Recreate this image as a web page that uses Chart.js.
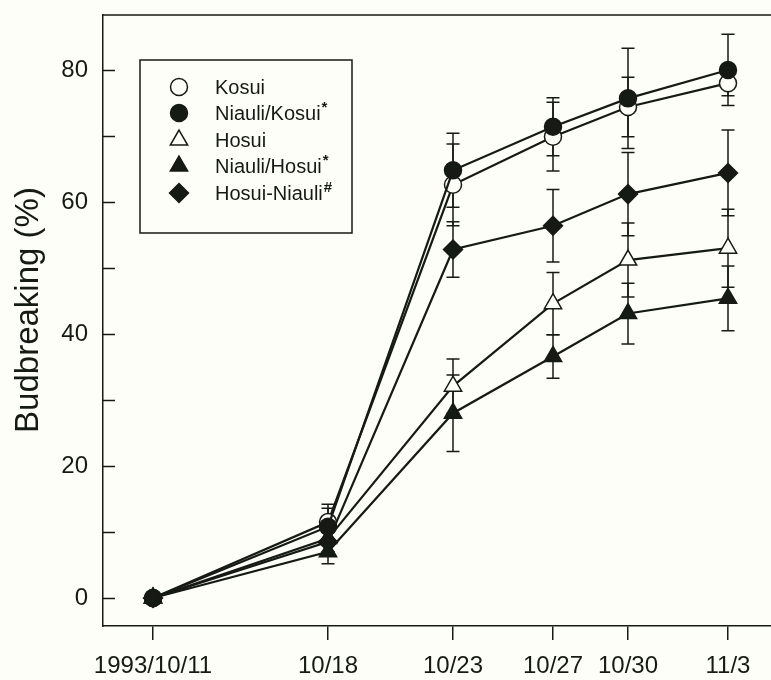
<!DOCTYPE html>
<html><head><meta charset="utf-8">
<script src="https://cdn.jsdelivr.net/npm/chart.js@4.4.0/dist/chart.umd.min.js"></script>
<style>html,body{margin:0;padding:0;background:#fefef8;} #wrap{width:771px;height:680px;}</style>
</head><body><div id="wrap"><canvas id="c" width="771" height="680"></canvas></div>
<script>
// ---- data ----
const dayTicks = [0, 7, 12, 16, 19, 23];            // days after 1993/10/11
const dateLabels = ['1993/10/11', '10/18', '10/23', '10/27', '10/30', '11/3'];
const yTickValues = [0, 10, 20, 30, 40, 50, 60, 70, 80];
const yLabelValues = [0, 20, 40, 60, 80];
const yTitle = 'Budbreaking (%)';
const seriesNames = ['Kosui', 'Niauli/Kosui*', 'Hosui', 'Niauli/Hosui*', 'Hosui-Niauli#'];

const kosui       = [0, 11.5, 62.6, 69.9, 74.4, 78.0];
const kosuiSD     = [0, 2.7, 6.2, 5.2, 4.5, 1.9];
const niauliKosui = [0, 10.8, 64.8, 71.4, 75.7, 80.0];
const niauliKosuiSD = [0, 2.8, 5.6, 4.4, 7.6, 5.4];
const hosui       = [0, 9.0, 32.1, 44.6, 51.2, 53.0];
const hosuiSD     = [0, 2.0, 4.1, 4.7, 5.6, 5.9];
const niauliHosui = [0, 7.0, 28.0, 36.6, 43.1, 45.4];
const niauliHosuiSD = [0, 1.8, 5.8, 3.3, 4.6, 4.9];
const hosuiNiauli = [0, 8.5, 52.8, 56.4, 61.2, 64.4];
const hosuiNiauliSD = [0, 1.5, 4.2, 5.5, 6.3, 6.5];

// ---- style ----
const INK = '#161a14';
const BG = '#fefef8';
const FONT = "'Liberation Sans', Arial, sans-serif";

function pts(vals) { return vals.map((v, i) => ({x: dayTicks[i], y: v})); }

function ds(label, vals, sd, style, filled, radius, order) {
  return {
    label: label, data: pts(vals), errors: sd, order: order,
    borderColor: INK, borderWidth: 2.2, tension: 0,
    pointStyle: style, pointRadius: radius, pointHoverRadius: radius,
    pointBackgroundColor: filled ? INK : BG, pointBorderColor: INK, pointBorderWidth: 1.5,
    fill: false, clip: false, isFilled: filled
  };
}

const datasets = [
  ds(seriesNames[0], kosui, kosuiSD, 'circle', false, 8.5, 2),
  ds(seriesNames[1], niauliKosui, niauliKosuiSD, 'circle', true, 8.5, 1),
  ds(seriesNames[2], hosui, hosuiSD, 'triangle', false, 10, 4),
  ds(seriesNames[3], niauliHosui, niauliHosuiSD, 'triangle', true, 10, 3),
  ds(seriesNames[4], hosuiNiauli, hosuiNiauliSD, 'rectRot', true, 9.5, 0)
];

function drawMarker(ctx, style, x, y, r, filled) {
  ctx.beginPath();
  if (style === 'circle') {
    ctx.arc(x, y, r, 0, Math.PI * 2);
  } else if (style === 'triangle') {
    const a = 2 * Math.PI / 3;
    ctx.moveTo(x, y - r);
    ctx.lineTo(x + Math.sin(a) * r, y - Math.cos(a) * r);
    ctx.lineTo(x + Math.sin(2 * a) * r, y - Math.cos(2 * a) * r);
  } else {
    ctx.moveTo(x, y - r); ctx.lineTo(x + r, y); ctx.lineTo(x, y + r); ctx.lineTo(x - r, y);
  }
  ctx.closePath();
  ctx.fillStyle = filled ? INK : BG;
  ctx.fill();
  ctx.lineWidth = 1.5; ctx.strokeStyle = INK; ctx.stroke();
}

const plugin = {
  id: 'custom',
  beforeDraw(chart) {
    const ctx = chart.ctx;
    ctx.save(); ctx.fillStyle = BG; ctx.fillRect(0, 0, chart.width, chart.height); ctx.restore();
  },
  beforeDatasetsDraw(chart) {
    const ctx = chart.ctx, xs = chart.scales.x, ys = chart.scales.y;
    ctx.save();
    ctx.strokeStyle = INK; ctx.lineWidth = 1.5;
    chart.data.datasets.forEach(d => {
      d.data.forEach((p, i) => {
        const e = d.errors[i];
        if (!e) return;
        const px = xs.getPixelForValue(p.x);
        const y1 = ys.getPixelForValue(p.y + e), y2 = ys.getPixelForValue(p.y - e);
        ctx.beginPath();
        ctx.moveTo(px, y1); ctx.lineTo(px, y2);
        ctx.moveTo(px - 6.5, y1); ctx.lineTo(px + 6.5, y1);
        ctx.moveTo(px - 6.5, y2); ctx.lineTo(px + 6.5, y2);
        ctx.stroke();
      });
    });
    ctx.restore();
  },
  afterDraw(chart) {
    const ctx = chart.ctx, a = chart.chartArea, ys = chart.scales.y;
    ctx.save();
    ctx.strokeStyle = INK; ctx.lineWidth = 1.5;
    // top frame line
    ctx.beginPath(); ctx.moveTo(a.left, a.top); ctx.lineTo(a.right, a.top); ctx.stroke();
    // inward y ticks
    yTickValues.forEach(v => {
      const py = Math.round(ys.getPixelForValue(v)) + 0.5;
      ctx.beginPath(); ctx.moveTo(a.left, py); ctx.lineTo(a.left + 12, py); ctx.stroke();
    });
    // y title
    ctx.save();
    ctx.translate(28.5, 310);
    ctx.rotate(-Math.PI / 2);
    ctx.fillStyle = INK; ctx.font = '33px ' + FONT;
    ctx.textAlign = 'center'; ctx.textBaseline = 'middle';
    ctx.fillText(yTitle, 0, 0);
    ctx.restore();
    // legend
    const bx = 140, by = 60, bw = 212, bh = 173;
    ctx.lineWidth = 1.5;
    ctx.strokeRect(bx, by, bw, bh);
    const rowY = [87, 113, 140, 166, 193];
    chart.data.datasets.forEach((d, i) => {
      const y = rowY[i];
      drawMarker(ctx, d.pointStyle, 179, y, d.pointRadius, d.isFilled);
      let txt = d.label, sup = '';
      if (/[*#]$/.test(txt)) { sup = txt.slice(-1); txt = txt.slice(0, -1); }
      ctx.fillStyle = INK;
      ctx.textBaseline = 'middle'; ctx.textAlign = 'left';
      ctx.font = '20px ' + FONT;
      ctx.fillText(txt, 215, y + 1);
      if (sup) {
        const w = ctx.measureText(txt).width;
        ctx.font = 'bold 15px ' + FONT;
        ctx.fillText(sup, 215 + w + 1, y - 5);
      }
    });
    ctx.restore();
  }
};

new Chart(document.getElementById('c'), {
  type: 'line',
  data: { datasets: datasets },
  plugins: [plugin],
  options: {
    responsive: false, animation: false, devicePixelRatio: 1,
    layout: { autoPadding: false, padding: { left: 0, right: 0, top: 15, bottom: 0 } },
    plugins: { legend: { display: false }, tooltip: { enabled: false } },
    scales: {
      x: {
        type: 'linear', min: -2, max: 24.72,
        afterBuildTicks: s => { s.ticks = dayTicks.map(v => ({value: v})); },
        afterFit: s => { s.height = 54; s.paddingLeft = 0; s.paddingRight = 0; },
        grid: { drawOnChartArea: false, drawTicks: true, tickLength: 14, color: INK, lineWidth: 1.5 },
        border: { display: true, color: INK, width: 1.5 },
        ticks: {
          autoSkip: false, maxRotation: 0, padding: 12, color: INK,
          font: { size: 24, family: FONT },
          callback: v => dateLabels[dayTicks.indexOf(v)]
        }
      },
      y: {
        type: 'linear', min: -4.24, max: 88.33,
        afterBuildTicks: s => { s.ticks = yTickValues.map(v => ({value: v})); },
        afterFit: s => { s.width = 103; s.paddingTop = 0; s.paddingBottom = 0; },
        grid: { drawOnChartArea: false, drawTicks: false },
        border: { display: true, color: INK, width: 1.5 },
        ticks: {
          padding: 15, color: INK, font: { size: 24, family: FONT },
          callback: v => yLabelValues.includes(v) ? String(v) : ''
        }
      }
    }
  }
});
</script>
</body></html>
